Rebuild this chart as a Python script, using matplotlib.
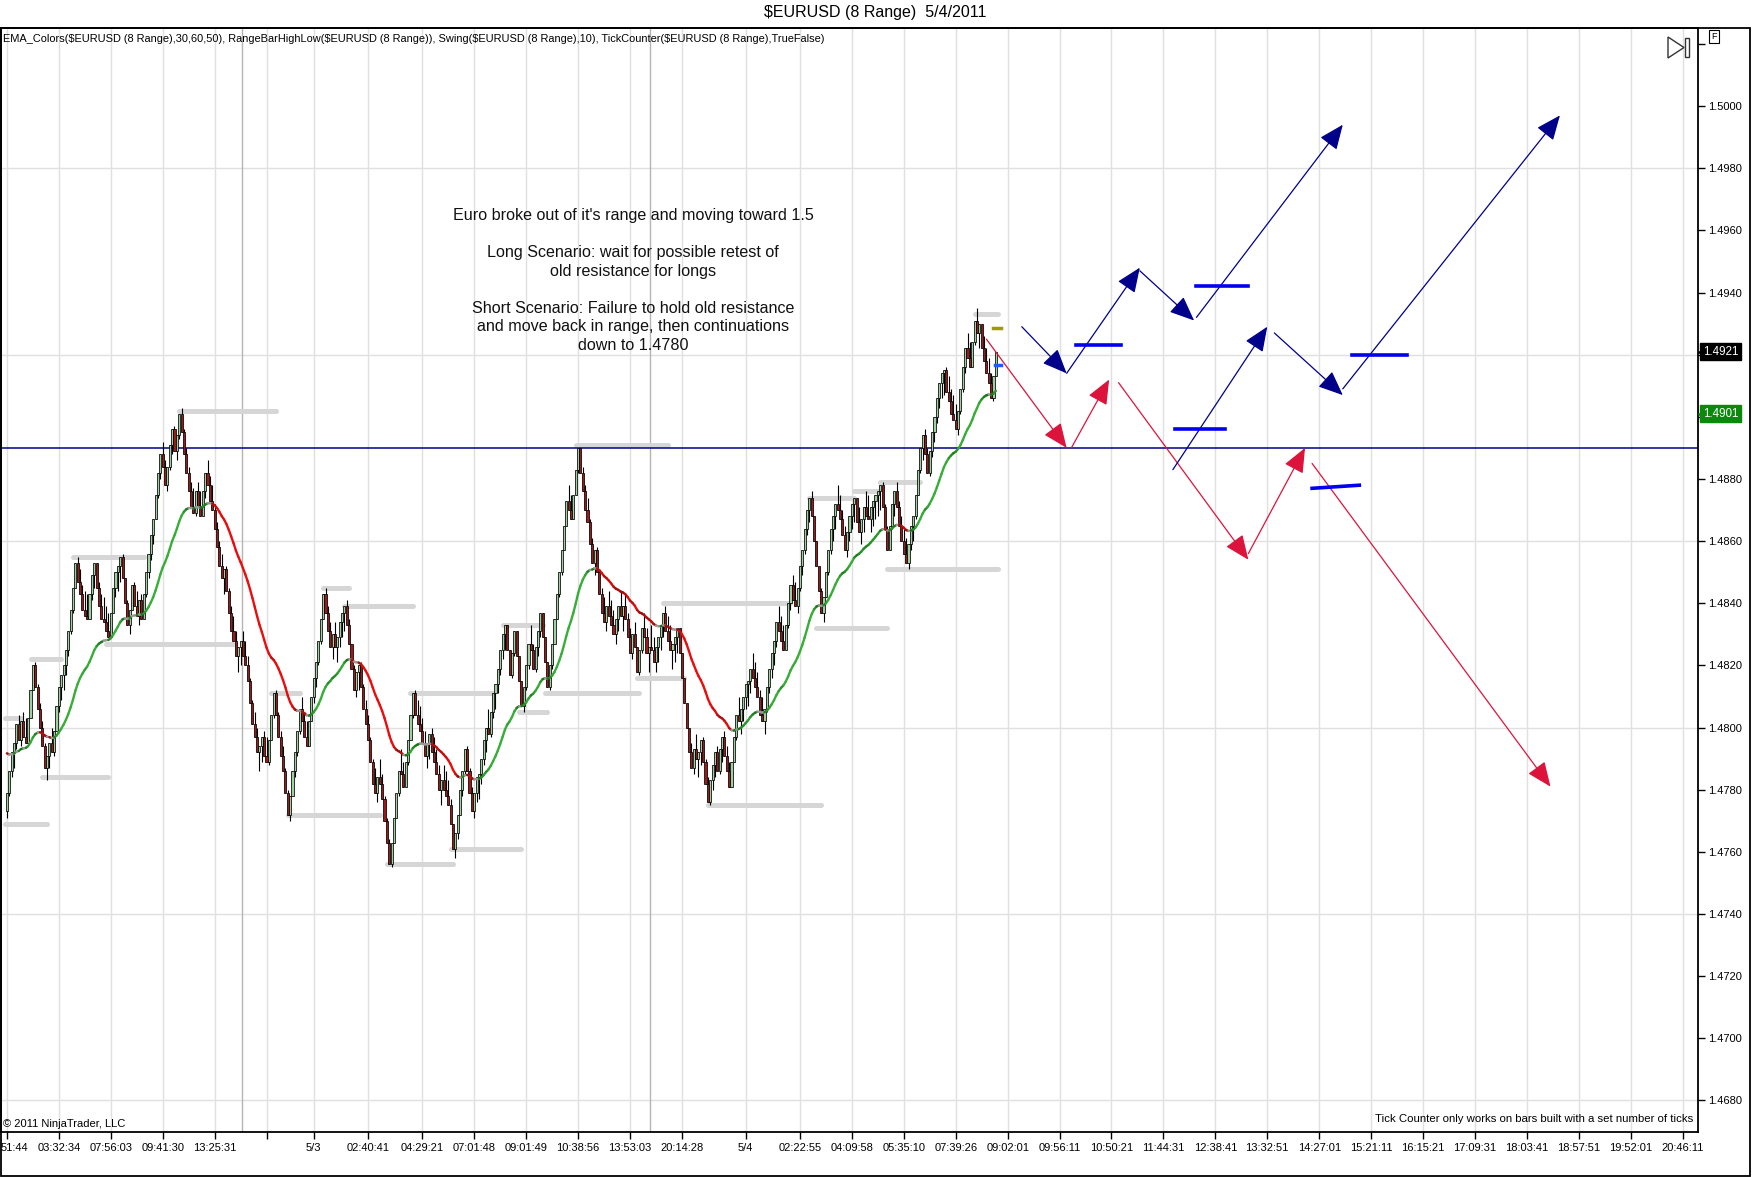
import numpy as np
import matplotlib
matplotlib.use("Agg")
import matplotlib.pyplot as plt
from matplotlib.collections import LineCollection
from matplotlib.patches import Polygon, Rectangle
from matplotlib.transforms import ScaledTranslation

plt.rcParams['font.family'] = ['Liberation Sans', 'DejaVu Sans']

W, H = 1752, 1177
BASE = 1.4700
PIP = 0.0001
RANGE = 8  # 8 pip range bars

# closes of the range bars, in pips above 1.4700
first_open = 73
closes = [
    79, 86, 92, 95, 101, 96, 102, 97, 95, 103,
    112, 120, 113, 106, 100, 94, 87, 91, 95, 92,
    99, 107, 113, 117, 120, 125, 131, 138, 145, 153,
    147, 143, 138, 136, 135, 143, 149, 153, 145, 139,
    135, 134, 131, 129, 137, 145, 150, 152, 155, 148,
    140, 133, 138, 146, 139, 136, 141, 135, 143, 150,
    156, 162, 167, 175, 182, 188, 184, 178, 184, 191,
    196, 189, 194, 201, 195, 188, 182, 176, 171, 169,
    176, 171, 168, 176, 182, 178, 173, 170, 164, 158,
    152, 148, 151, 144, 137, 131, 128, 123, 126, 128,
    123, 120, 115, 108, 101, 97, 92, 94, 97, 91,
    89, 96, 104, 111, 104, 97, 91, 86, 79, 72,
    78, 86, 92, 99, 106, 102, 97, 94, 102, 110,
    116, 121, 128, 135, 143, 137, 131, 126, 130, 126,
    129, 134, 137, 139, 133, 127, 119, 112, 118, 120,
    113, 106, 101, 96, 89, 82, 79, 84, 82, 77,
    70, 63, 56, 63, 71, 79, 86, 85, 81, 89,
    96, 104, 111, 104, 101, 99, 95, 91, 95, 98,
    92, 89, 85, 80, 83, 80, 78, 75, 69, 61,
    66, 72, 80, 86, 93, 86, 79, 73, 79, 84,
    85, 90, 96, 100, 98, 105, 111, 114, 119, 125,
    130, 133, 125, 117, 124, 131, 123, 115, 107, 113,
    120, 127, 125, 119, 126, 131, 137, 129, 121, 113,
    120, 127, 135, 143, 150, 157, 165, 173, 170, 167,
    175, 183, 190, 182, 176, 170, 166, 159, 153, 157,
    150, 143, 137, 134, 139, 136, 133, 130, 135, 139,
    136, 139, 135, 129, 124, 130, 126, 118, 125, 132,
    129, 124, 126, 125, 121, 126, 129, 133, 137, 131,
    128, 125, 127, 129, 132, 124, 116, 108, 100, 92,
    87, 93, 90, 92, 96, 89, 82, 76, 83, 88,
    92, 86, 93, 97, 91, 86, 81, 89, 97, 104,
    102, 106, 110, 114, 115, 119, 116, 113, 110, 104,
    102, 106, 113, 119, 124, 128, 134, 131, 128, 125,
    133, 140, 146, 141, 139, 145, 152, 157, 164, 170,
    174, 168, 160, 152, 144, 137, 142, 150, 157, 164,
    168, 172, 170, 167, 162, 157, 163, 168, 172, 174,
    166, 163, 167, 171, 168, 167, 171, 173, 175, 176,
    178, 171, 164, 157, 165, 172, 176, 171, 165, 160,
    156, 153, 159, 165, 168, 175, 183, 190, 194, 188,
    182, 189, 195, 200, 206, 211, 214, 215, 208, 205,
    201, 199, 196, 202, 209, 216, 222, 219, 216, 224,
    231, 227, 230, 222, 218, 214, 211, 206, 213, 221,
]

# EMA(30) value at the left edge of the chart, in pips
ema_start = 92.6
ema_period = 30

# swing / range high-low markers: start bar, end bar, price
swing_start = [-1, -1, 10, 15, 28, 42, 73, 112, 119, 134, 143, 161, 171, 188,
               210, 217, 228, 241, 267, 278, 297, 343, 340, 359, 370, 373, 410]
swing_end = [17, 6, 23, 43, 58, 96, 114, 124, 158, 145, 172, 189, 206, 218,
             227, 229, 268, 280, 287, 332, 345, 373, 359, 369, 387, 420, 420]
swing_level = [1.4769, 1.4803, 1.4822, 1.4784, 1.4855, 1.4827, 1.4902, 1.4811,
               1.4772, 1.4845, 1.4839, 1.4756, 1.4811, 1.4761, 1.4833, 1.4805,
               1.4811, 1.4891, 1.4816, 1.4840, 1.4775, 1.4832, 1.4874, 1.4876,
               1.4879, 1.4851, 1.4933]

# hand drawn scenario arrows: (start bar, start price, end bar, end price)
blue_arrows = [
    (430, 1.4929, 449, 1.4914),
    (449, 1.4914, 480, 1.4948),
    (480, 1.4947, 503, 1.4931),
    (504, 1.4932, 566, 1.4994),
    (494, 1.4883, 534, 1.4929),
    (537, 1.4927, 566, 1.4907),
    (566, 1.4909, 658, 1.4997),
]
red_arrows = [
    (415, 1.4925, 449, 1.4890),
    (451, 1.4890, 467, 1.4912),
    (471, 1.4911, 526, 1.4854),
    (526, 1.4856, 550, 1.4890),
    (553, 1.4885, 654, 1.4781),
]
# short blue level marks: start bar, end bar, start price, end price
level_marks = [
    (453, 472, 1.4923, 1.4923),
    (504, 526, 1.4942, 1.4942),
    (495, 516, 1.4896, 1.4896),
    (570, 593, 1.4920, 1.4920),
    (553, 573, 1.4877, 1.4878),
]
hline_price = 1.4890

x_ticks = [0, 22, 44, 66, 88, 110, 130, 153, 176, 198, 220, 242, 264, 286, 313,
           336, 358, 380, 402, 424, 446, 468, 490, 512, 534, 556, 578, 600, 622,
           644, 666, 688, 710]
x_labels = ['51:44', '03:32:34', '07:56:03', '09:41:30', '13:25:31', '', '5/3',
            '02:40:41', '04:29:21', '07:01:48', '09:01:49', '10:38:56', '13:53:03',
            '20:14:28', '5/4', '02:22:55', '04:09:58', '05:35:10', '07:39:26',
            '09:02:01', '09:56:11', '10:50:21', '11:44:31', '12:38:41', '13:32:51',
            '14:27:01', '15:21:11', '16:15:21', '17:09:31', '18:03:41', '18:57:51',
            '19:52:01', '20:46:11']
session_breaks = [99.5, 272.5]
y_ticks = [1.4680, 1.4700, 1.4720, 1.4740, 1.4760, 1.4780, 1.4800, 1.4820, 1.4840,
           1.4860, 1.4880, 1.4900, 1.4920, 1.4940, 1.4960, 1.4980, 1.5000, 1.5020]
# labels hidden behind the price tags / the top corner
y_hidden = [1.4900, 1.4920, 1.5020]
y_grid = [1.4680, 1.4740, 1.4800, 1.4860, 1.4920, 1.4980]
tag_prices = [1.4921, 1.4901]

assert len(closes) == 420

# ---- bars
c = np.array(closes, dtype=float)
o = np.concatenate([[first_open], c[:-1]])
up = c >= o
hi = np.where(up, c, c + RANGE)
lo = np.where(up, c - RANGE, c)
hi = np.maximum(hi, o)
lo = np.minimum(lo, o)
xs = np.arange(len(c))

to_price = lambda p: BASE + np.asarray(p) * PIP

# ---- EMA
alpha = 2.0 / (ema_period + 1)
ema = []
prev = ema_start
for v in closes:
    prev = prev + alpha * (v - prev)
    ema.append(prev)
ema = np.array(ema)


def ema_color(s):
    if abs(s) < 0.25:
        return (0.6, 0.6, 0.6)
    t = min(abs(s) / 1.3, 1.0)
    if s > 0:
        dark, bright = (0.05, 0.38, 0.05), (0.22, 0.68, 0.22)
    else:
        dark, bright = (0.50, 0.05, 0.05), (0.92, 0.05, 0.05)
    return tuple(d + t * (b - d) for d, b in zip(dark, bright))


fig = plt.figure(figsize=(W / 100, H / 100), dpi=100)
fig.patch.set_facecolor('white')
ax = fig.add_axes([1 / W, 1 - 1132 / H, (1698 - 1) / W, (1132 - 28) / H])
ax.set_xlim(-2.5, 716.5)
ax.set_ylim(1.466986, 1.502513)

# grid
for xt in x_ticks:
    ax.axvline(xt, color='#e0e0e0', lw=1, zorder=0)
for yg in y_grid:
    ax.axhline(yg, color='#e0e0e0', lw=1, zorder=0)
for sb in session_breaks:
    ax.axvline(sb, color='#b4b4b4', lw=1, zorder=0.5)

# swing markers
for s0, s1, lv in zip(swing_start, swing_end, swing_level):
    ax.plot([s0, s1], [lv, lv], color='#d6d6d6', lw=3.6, solid_capstyle='round',
            zorder=1)

ax.axhline(hline_price, color='#00008b', lw=1.1, zorder=1.5)

# candles
ax.vlines(xs, to_price(lo), to_price(hi), color='black', lw=0.8, zorder=2)
body_bottom = to_price(np.minimum(o, c))
body_h = np.maximum(np.abs(c - o), 0.4) * PIP
ax.bar(xs, body_h, bottom=body_bottom, width=0.88,
       color=np.where(up, '#9fd09f', '#a01818'), edgecolor='black', linewidth=0.55,
       zorder=3)

# EMA line
pts = np.column_stack([xs, to_price(ema)])
segs = np.stack([pts[:-1], pts[1:]], axis=1)
cols = [ema_color(s) for s in np.diff(ema)]
ax.add_collection(LineCollection(segs, colors=cols, linewidths=1.7, zorder=4,
                                 capstyle='round'))

# last bar markers
ax.plot([418, 421], [1.49286, 1.49286], color='#a09a00', lw=2.5, zorder=5)
ax.plot([418.5, 421], [1.49167, 1.49167], color='#1a5cff', lw=2.5, zorder=5)

# scenario drawings
for x0, y0, x1, y1 in red_arrows:
    ax.annotate('', xy=(x1, y1), xytext=(x0, y0), zorder=6,
                arrowprops=dict(arrowstyle='-|>,head_length=0.9,head_width=0.38',
                                color='#dc143c', lw=0.9, mutation_scale=17,
                                shrinkA=0, shrinkB=0))
for x0, y0, x1, y1 in blue_arrows:
    ax.annotate('', xy=(x1, y1), xytext=(x0, y0), zorder=6,
                arrowprops=dict(arrowstyle='-|>,head_length=0.9,head_width=0.38',
                                color='#00008b', lw=0.9, mutation_scale=17,
                                shrinkA=0, shrinkB=0))
for x0, x1, y0, y1 in level_marks:
    ax.plot([x0, x1], [y0, y1], color='#0000ee', lw=2.6, zorder=6)

ax.text(633 / W, 1 - 280.5 / H, "Euro broke out of it's range and moving toward 1.5\n\n"
        "Long Scenario: wait for possible retest of\nold resistance for longs\n\n"
        "Short Scenario: Failure to hold old resistance\n"
        "and move back in range, then continuations\ndown to 1.4780",
        transform=fig.transFigure, ha='center', va='center', multialignment='center',
        fontsize=11.65, linespacing=1.30, color='#111111', zorder=7)

# axes styling
ax.set_facecolor('white')
for sp in ax.spines.values():
    sp.set_color('black')
    sp.set_linewidth(1.3)
ax.yaxis.tick_right()
ax.set_yticks(y_ticks)
ax.set_yticklabels(['' if any(abs(v - h) < 1e-6 for h in y_hidden) else '%.4f' % v
                    for v in y_ticks])
ax.tick_params(axis='y', direction='out', length=5, width=1, pad=2, labelsize=8)
ax.set_xticks(x_ticks)
ax.set_xticklabels(x_labels)
ax.tick_params(axis='x', direction='out', length=5, width=1, pad=3, labelsize=8)
first = ax.get_xticklabels()[0]
first.set_ha('left')
first.set_transform(first.get_transform() + ScaledTranslation(-0.06, 0, fig.dpi_scale_trans))

# price tags on the axis
for p, fc in zip(tag_prices, ['black', '#0a8a0a']):
    ax.text(1.0028, p, '%.4f' % p, transform=ax.get_yaxis_transform(), ha='left',
            va='center', fontsize=8.4, color='white', clip_on=False, zorder=8,
            bbox=dict(boxstyle='square,pad=0.2', fc=fc, ec=fc))
    ax.plot([1.0015], [p], marker='<', ms=5, color=fc, transform=ax.get_yaxis_transform(),
            clip_on=False, zorder=8)

# texts around the chart
fig.text(875 / W, 1 - 13 / H, r'\$EURUSD (8 Range)  5/4/2011', ha='center', va='center',
         fontsize=11.5)
fig.text(3 / W, 1 - 39 / H,
         r'EMA_Colors(\$EURUSD (8 Range),30,60,50), RangeBarHighLow(\$EURUSD (8 Range)), '
         r'Swing(\$EURUSD (8 Range),10), TickCounter(\$EURUSD (8 Range),TrueFalse)',
         ha='left', va='center', fontsize=7.95)
fig.text(3 / W, 1 - 1124 / H, '\u00a9 2011 NinjaTrader, LLC', ha='left', va='center',
         fontsize=8)
fig.text(1693 / W, 1 - 1119 / H,
         'Tick Counter only works on bars built with a set number of ticks',
         ha='right', va='center', fontsize=8.2)
fig.text(1714 / W, 1 - 36.5 / H, 'F', ha='center', va='center', fontsize=6.5,
         bbox=dict(boxstyle='square,pad=0.25', fc='white', ec='black', lw=0.8))

# the little "go to end" icon
fx = lambda x: x / W
fy = lambda y: 1 - y / H
fig.add_artist(Polygon([(fx(1668), fy(37)), (fx(1668), fy(58)), (fx(1684), fy(47.5))],
                       closed=True, fill=False, ec='#333333', lw=1,
                       transform=fig.transFigure))
fig.add_artist(Rectangle((fx(1685), fy(57)), 4 / W, 19 / H, fill=False, ec='#333333',
                         lw=1, transform=fig.transFigure))
# outer frame
fig.add_artist(Rectangle((fx(0.7), fy(1175.5)), 1749.5 / W, (1175.5 - 28) / H,
                         fill=False, ec='black', lw=1.3, transform=fig.transFigure))

fig.savefig('out.png', dpi=100)
